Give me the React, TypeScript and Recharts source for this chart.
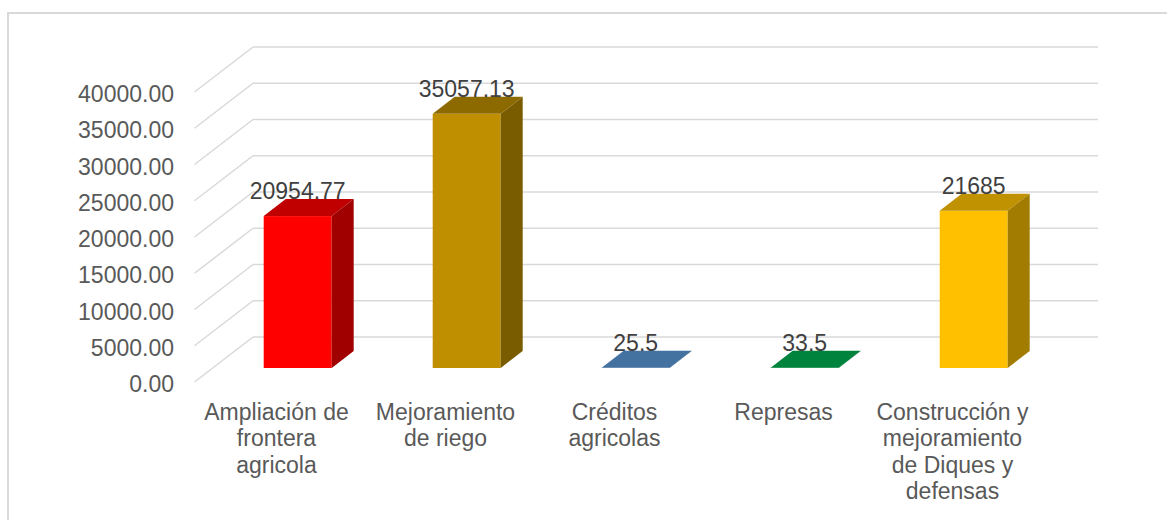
import { Bar, BarChart, CartesianGrid, Cell, LabelList, XAxis, YAxis } from "recharts";

const categories = [
  "Ampliación de\nfrontera\nagricola",
  "Mejoramiento\nde riego",
  "Créditos\nagricolas",
  "Represas",
  "Construcción y\nmejoramiento\nde Diques y\ndefensas",
];
const values = [20954.77, 35057.13, 25.5, 33.5, 21685];
const yTicks = [0, 5000, 10000, 15000, 20000, 25000, 30000, 35000, 40000];

const frontColors = ["#FF0000", "#BF8F00", "#4472A0", "#00843D", "#FFC000"];
const topColors = ["#C00000", "#8C6A00", "#4472A0", "#00843D", "#C09100"];
const sideColors = ["#A00000", "#7A5C00", "#35587C", "#006830", "#A27C00"];

const data = categories.map((name, i) => ({ name, value: values[i], idx: i }));

const FONT = "'Liberation Sans', Arial, sans-serif";
// perspective offsets (bar plane -> back wall / front edge)
const BACK = { dx: 40, dy: -31 };
const FRONT = { dx: -18.5, dy: 14 };
const DEPTH = { dx: 22, dy: -17 };

const GridLine = (props: any) => {
  const { x1, x2, y1 } = props;
  return (
    <g key={props.key}>
      <line x1={x1 + FRONT.dx} y1={y1 + FRONT.dy} x2={x1 + BACK.dx} y2={y1 + BACK.dy} stroke="#d9d9d9" strokeWidth={1.5} />
      <line x1={x1 + BACK.dx} y1={y1 + BACK.dy} x2={x2 + BACK.dx} y2={y1 + BACK.dy} stroke="#d9d9d9" strokeWidth={1.5} />
    </g>
  );
};

const Box3D = (props: any) => {
  const { x, y, width: w, height: h, payload } = props;
  const i = payload.idx;
  const { dx, dy } = DEPTH;
  return (
    <g>
      <rect x={x} y={y} width={w} height={h} fill={frontColors[i]} />
      <polygon
        points={`${x},${y} ${x + dx},${y + dy} ${x + w + dx},${y + dy} ${x + w},${y}`}
        fill={topColors[i]}
      />
      <polygon
        points={`${x + w},${y} ${x + w + dx},${y + dy} ${x + w + dx},${y + h + dy} ${x + w},${y + h}`}
        fill={sideColors[i]}
      />
    </g>
  );
};

const YTick = ({ x, y, payload }: any) => (
  <text x={x - 39} y={y + 24} textAnchor="end" fontSize={23} fontFamily={FONT} fill="#595959">
    {Number(payload.value).toFixed(2)}
  </text>
);

const XTick = ({ x, y, payload }: any) => {
  const lines = String(payload.value).split("\n");
  return (
    <text x={x - 21} y={y + 52} textAnchor="middle" fontSize={23} fontFamily={FONT} fill="#595959">
      {lines.map((l, k) => (
        <tspan key={k} x={x - 21} dy={k === 0 ? 0 : 26.3}>
          {l}
        </tspan>
      ))}
    </text>
  );
};

const ValueLabel = (props: any) => {
  const { x, y, width, value } = props;
  return (
    <text x={x + width / 2} y={y - 17} textAnchor="middle" fontSize={23} fontFamily={FONT} fill="#404040">
      {String(value)}
    </text>
  );
};

export default function App() {
  return (
    <div style={{ position: "absolute", left: 0, top: 0, width: 1167, height: 520, background: "#fff" }}>
      <div
        style={{
          position: "absolute",
          left: 7,
          top: 12,
          right: 0,
          bottom: 0,
          borderLeft: "2px solid #d9d9d9",
          borderTop: "2px solid #d9d9d9",
        }}
      />
      <div style={{ position: "absolute", left: 0, top: 0 }}>
        <BarChart
          width={1167}
          height={520}
          data={data}
          margin={{ top: 78, right: 109, bottom: 92, left: 153 }}
          barCategoryGap="30%"
        >
          <CartesianGrid vertical={false} horizontal={GridLine} />
          <XAxis
            dataKey="name"
            axisLine={false}
            tickLine={false}
            tickSize={0}
            tickMargin={0}
            height={60}
            interval={0}
            tick={<XTick />}
          />
          <YAxis
            domain={[0, 40000]}
            ticks={yTicks}
            axisLine={false}
            tickLine={false}
            tickSize={0}
            tickMargin={0}
            width={60}
            tick={<YTick />}
          />
          <Bar dataKey="value" isAnimationActive={false} shape={<Box3D />}>
            {data.map((d) => (
              <Cell key={d.idx} fill={frontColors[d.idx]} />
            ))}
            <LabelList dataKey="value" content={<ValueLabel />} />
          </Bar>
        </BarChart>
      </div>
    </div>
  );
}
